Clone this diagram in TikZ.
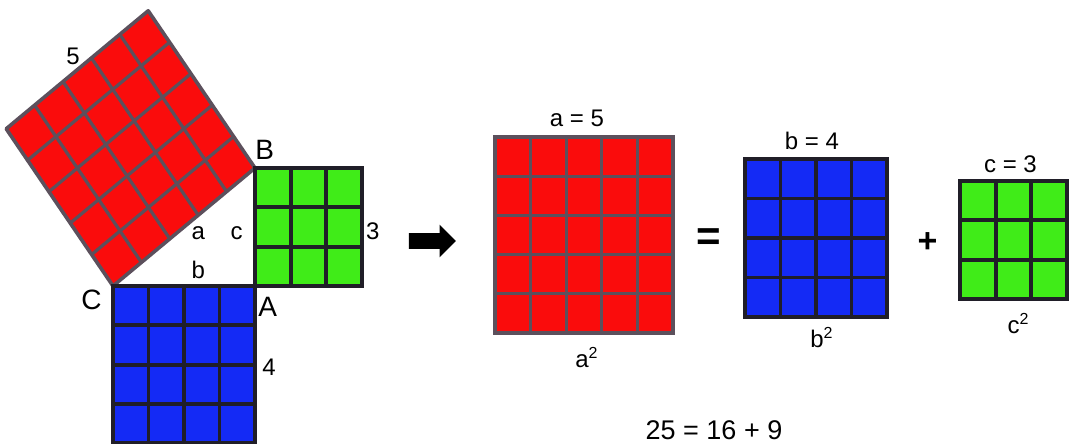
\documentclass[tikz,border=0pt]{standalone}
\usepackage{fontspec}
\setmainfont{Liberation Sans}
\usepackage{tikz}
\usetikzlibrary{positioning, calc, shapes.arrows}
\definecolor{sqred}{RGB}{250,12,12}
\definecolor{sqblue}{RGB}{20,42,245}
\definecolor{sqgreen}{RGB}{64,236,24}
\definecolor{lnred}{RGB}{92,80,92}
\definecolor{lndark}{RGB}{32,30,40}
\tikzset{
  sqbox/.style={rectangle, draw=lndark, line width=2.3pt,
    inner sep=0pt, outer sep=0pt},
  redbox/.style={sqbox, fill=sqred, draw=lnred, line width=1.8pt},
  bluebox/.style={sqbox, fill=sqblue},
  greenbox/.style={sqbox, fill=sqgreen},
  gridln/.style={line width=1.9pt, color=lndark},
  redgridln/.style={line width=1.6pt, color=lnred},
  lbl/.style={font=\fontsize{12}{14}\selectfont, inner sep=0pt},
  caplbl/.style={font=\fontsize{14}{16}\selectfont, inner sep=0pt},
  opsign/.style={font=\bfseries\fontsize{21}{24}\selectfont, inner sep=0pt},
  sumlbl/.style={font=\fontsize{13.5}{16}\selectfont, inner sep=0pt},
  bigarrow/.style={single arrow, fill=black, draw=none, inner sep=3.75pt,
    minimum height=23.5pt, single arrow head extend=4.25pt,
    single arrow head indent=0pt}
}

\begin{document}
\begin{tikzpicture}[x=0.5pt, y=-0.5pt]
  \useasboundingbox (0,0) rectangle (1071,444);
  \fill[white] (0,0) rectangle (1071,444);

  % triangle corners and the square on the hypotenuse
  \coordinate (C) at (113,286);
  \coordinate (A) at (255,286);
  \coordinate (B) at (255,168);
  \coordinate (T) at ($(B)+(-106.8,-157.2)$);
  \coordinate (L) at ($(C)+(-106.8,-157.2)$);

  \fill[sqred] (C)--(B)--(T)--(L)--cycle;
  \foreach \i in {1,...,4} {
    \draw[redgridln] ($(C)!\i/5!(B)$) -- ($(L)!\i/5!(T)$);
    \draw[redgridln] ($(C)!\i/5!(L)$) -- ($(B)!\i/5!(T)$);
  }
  \draw[lnred, line width=1.8pt, line join=round] (C)--(B)--(T)--(L)--cycle;

  \node[greenbox, minimum width=53.4pt, minimum height=59pt,
    anchor=south west] (csqL) at (A) {};
  \node[bluebox, minimum width=71pt, minimum height=78.6pt,
    anchor=north west] (bsqL) at (C) {};

  % squares of the sum
  \node[redbox, minimum width=89pt, minimum height=98pt] (asq) at (584,235) {};
  \node[bluebox, minimum width=71pt, minimum height=79pt,
    right=36pt of asq, yshift=-1.5pt] (bsq) {};
  \node[greenbox, minimum width=53.5pt, minimum height=59pt,
    right=36.5pt of bsq, yshift=-1pt] (csq) {};

  \foreach \sq/\n/\ln in {asq/5/redgridln, bsq/4/gridln, csq/3/gridln,
                          bsqL/4/gridln, csqL/3/gridln} {
    \foreach \i in {1,...,\n} {
      \draw[\ln] ($(\sq.north west)!\i/\n!(\sq.north east)$) --
                 ($(\sq.south west)!\i/\n!(\sq.south east)$);
      \draw[\ln] ($(\sq.north west)!\i/\n!(\sq.south west)$) --
                 ($(\sq.north east)!\i/\n!(\sq.south east)$);
    }
  }

  % labels of the triangle
  \node[lbl] (l5) at ($(L)!0.47!(T)+(0,-17)$) {5};
  \node[caplbl, above right=4pt and 0pt of B] (lB) {B};
  \node[caplbl, below left=2pt and 5.5pt of C] (lC) {C};
  \node[caplbl, below right=5.5pt and 1.5pt of A] (lA) {A};
  \node[lbl] (la) at ($(C)!0.6!(B)+(0,18)$) {a};
  \node[lbl, left=6pt of csqL.west, yshift=-3pt] (lc) {c};
  \node[lbl] (lb) at ($(C)!0.6!(A)+(0,-16)$) {b};
  \node[lbl, right=2pt of csqL.east, yshift=-2pt] (l3) {3};
  \node[lbl, right=3.5pt of bsqL.east, yshift=-1.5pt] (l4) {4};

  \node[bigarrow] (arr) at (428.5,241) {};

  % labels of the sum
  \node[lbl, above=5pt of asq, xshift=-3.5pt] (ta) {a = 5};
  \node[lbl, below=7pt of asq, xshift=1.5pt] (sa) {a\textsuperscript{2}};
  \node[lbl, above=4.5pt of bsq, xshift=-2pt] (tb) {b = 4};
  \node[lbl, below=5pt of bsq, xshift=3pt] (sb) {b\textsuperscript{2}};
  \node[lbl, above=4pt of csq, xshift=-1.5pt] (tc) {c = 3};
  \node[lbl, below=7pt of csq, xshift=2.5pt] (sc) {c\textsuperscript{2}};

  \node[opsign, yshift=-1.5pt] (eq) at ($(asq.east)!0.5!(bsq.west)$) {=};
  \node[opsign, font=\bfseries\fontsize{17}{20}\selectfont,
    xshift=2pt, yshift=-2pt] (plus) at ($(bsq.east)!0.5!(csq.west)$) {+};

  \node[sumlbl] (sum) at (714,430) {25 = 16 + 9};
\end{tikzpicture}
\end{document}
